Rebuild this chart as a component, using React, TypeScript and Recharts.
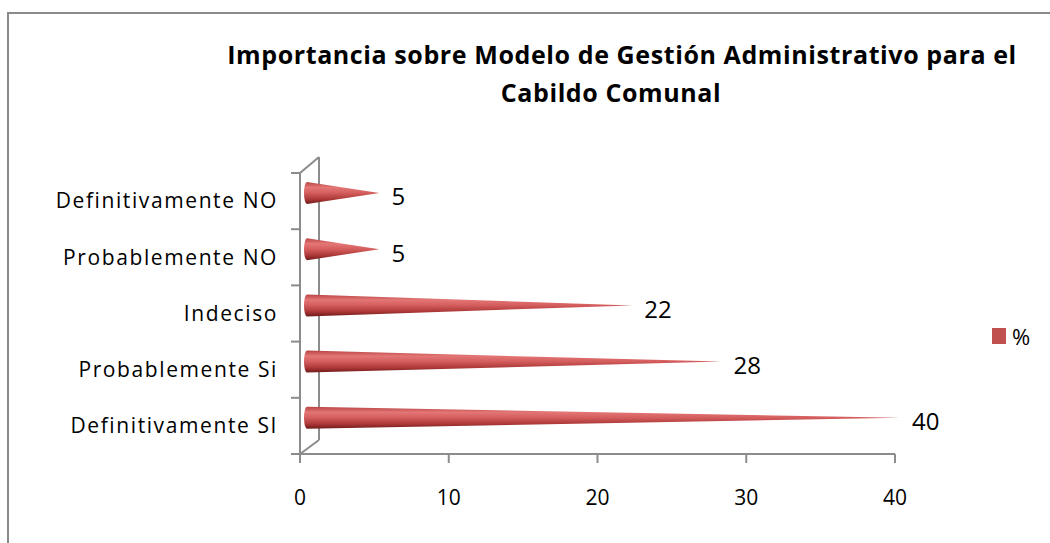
import { BarChart, Bar, XAxis, YAxis, LabelList, Legend, Customized } from 'recharts'

const categories = ['Definitivamente NO', 'Probablemente NO', 'Indeciso', 'Probablemente Si', 'Definitivamente SI']
const percentValues = [5, 5, 22, 28, 40]
const xTicks = [0, 10, 20, 30, 40]
const titleLines = ['Importancia sobre Modelo de Gestión Administrativo para el', 'Cabildo Comunal']
const seriesName = '%'

const data = categories.map((name, i) => ({ name, pct: percentValues[i] }))

const W = 1050
const H = 543
const MARGIN = { top: 173, right: 155, bottom: 29, left: 0 }
const PLOT_LEFT = 300
const PLOT_BOTTOM = H - 89
const BAND = (PLOT_BOTTOM - MARGIN.top) / categories.length
const AXIS = '#8c8c8c'
const RED = '#c0504d'
const FONT = '"Open Sans", sans-serif'

function Cone(props: any) {
  const { x, y, width, height } = props
  const cy = y + height / 2 - 8
  const r = height / 2
  const x0 = x + 7
  const tip = x + width + 5
  const d = `M ${x0} ${cy - r} L ${tip} ${cy} L ${x0} ${cy + r} A 3 ${r} 0 0 1 ${x0} ${cy - r} Z`
  return <path d={d} fill="url(#coneGrad)" />
}

function ValueLabel(props: any) {
  const { x, y, width, height, value } = props
  return (
    <text x={x + width + 17} y={y + height / 2 - 4} dy="0.35em" fontSize={24} fontFamily={FONT} fill="#000">
      {value}
    </text>
  )
}

function CategoryTick(props: any) {
  const { x, y, payload, index } = props
  const top = y - BAND / 2
  return (
    <g>
      <line x1={PLOT_LEFT - 9} x2={PLOT_LEFT} y1={top} y2={top} stroke={AXIS} strokeWidth={2} />
      {index === categories.length - 1 && (
        <line x1={PLOT_LEFT - 9} x2={PLOT_LEFT} y1={top + BAND} y2={top + BAND} stroke={AXIS} strokeWidth={2} />
      )}
      <text x={x - 14} y={y} dy="0.35em" textAnchor="end" fontSize={21} fontFamily={FONT} letterSpacing={1.6} fill="#000">
        {payload.value}
      </text>
    </g>
  )
}

function Decor() {
  return (
    <g>
      <defs>
        <linearGradient id="coneGrad" x1="0" y1="0" x2="0" y2="1">
          <stop offset="0" stopColor="#b84444" />
          <stop offset="0.25" stopColor="#e47676" />
          <stop offset="0.5" stopColor="#d45d5d" />
          <stop offset="0.8" stopColor="#a83535" />
          <stop offset="1" stopColor="#6e1a1a" />
        </linearGradient>
      </defs>
      <path d={`M 8 ${H} V 13 H ${W}`} fill="none" stroke="#8a8a8a" strokeWidth={2} />
      {/* back wall of the 3D plot */}
      <line x1={PLOT_LEFT + 19} x2={PLOT_LEFT + 19} y1={MARGIN.top - 16} y2={PLOT_BOTTOM - 14} stroke={AXIS} strokeWidth={2} />
      <line x1={PLOT_LEFT} x2={PLOT_LEFT + 19} y1={MARGIN.top} y2={MARGIN.top - 16} stroke={AXIS} strokeWidth={2} />
      <line x1={PLOT_LEFT} x2={PLOT_LEFT + 19} y1={PLOT_BOTTOM} y2={PLOT_BOTTOM - 14} stroke={AXIS} strokeWidth={2} />
      {titleLines.map((t, i) => (
        <text key={i} x={622 - (i ? 11 : 0)} y={55 + i * 38} dy="0.35em" textAnchor="middle" fontSize={25}
          fontWeight="bold" fontFamily={FONT} letterSpacing={0.6} fill="#000">
          {t}
        </text>
      ))}
    </g>
  )
}

function LegendBox(props: any) {
  const item = props.payload?.[0]
  return (
    <div style={{ display: 'flex', alignItems: 'center', fontFamily: FONT, fontSize: 22 }}>
      <span style={{ width: 14, height: 16, background: RED, display: 'inline-block', marginRight: 6 }} />
      <span>{item ? item.value : seriesName}</span>
    </div>
  )
}

export default function App() {
  return (
    <div style={{ position: 'absolute', left: 0, top: 0, width: W, height: H, background: '#fff', overflow: 'hidden' }}>
      <BarChart width={W} height={H} data={data} layout="vertical" margin={MARGIN} barSize={22}>
        <Customized component={Decor} />
        <XAxis
          type="number"
          domain={[0, 40]}
          ticks={xTicks}
          height={60}
          tickSize={9}
          tickMargin={27}
          axisLine={{ stroke: AXIS, strokeWidth: 2 }}
          tickLine={{ stroke: AXIS, strokeWidth: 2 }}
          tick={{ fontSize: 21, fontFamily: FONT, fill: '#000' }}
        />
        <YAxis
          type="category"
          dataKey="name"
          width={300}
          tickLine={false}
          axisLine={{ stroke: AXIS, strokeWidth: 2 }}
          tick={<CategoryTick />}
          interval={0}
        />
        <Legend
          layout="vertical"
          align="center"
          verticalAlign="middle"
          wrapperStyle={{ left: 992, top: 321, width: 50 }}
          content={<LegendBox />}
        />
        <Bar dataKey="pct" name={seriesName} fill={RED} shape={<Cone />} isAnimationActive={false}>
          <LabelList dataKey="pct" content={<ValueLabel />} />
        </Bar>
      </BarChart>
    </div>
  )
}
